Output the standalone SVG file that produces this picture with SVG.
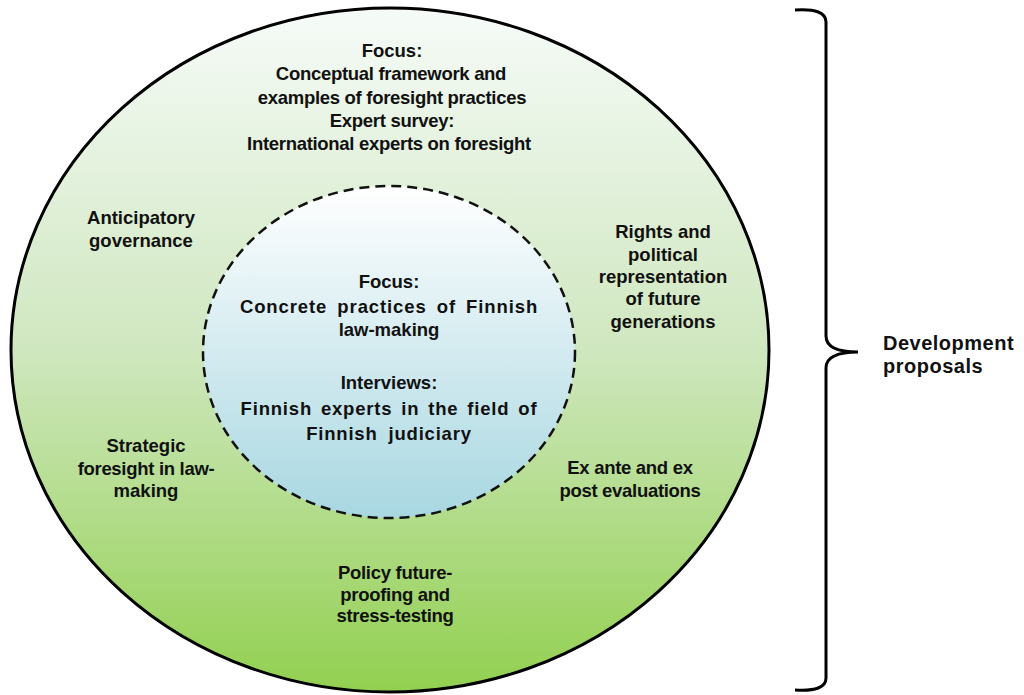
<svg xmlns="http://www.w3.org/2000/svg" width="1024" height="695" viewBox="0 0 1024 695">
<defs>
<linearGradient id="gOuter" x1="0" y1="0" x2="0" y2="1">
<stop offset="0" stop-color="#f6fbf8"/>
<stop offset="0.5" stop-color="#cfe7bf"/>
<stop offset="1" stop-color="#92d050"/>
</linearGradient>
<linearGradient id="gInner" x1="0" y1="0" x2="0" y2="1">
<stop offset="0" stop-color="#ffffff"/>
<stop offset="1" stop-color="#a8d7e1"/>
</linearGradient>
<style>
text{font-family:"Liberation Sans",Arial,sans-serif;font-weight:bold;font-size:18.5px;fill:#111;text-anchor:middle}
.outer{fill:url(#gOuter);stroke:#000;stroke-width:3}
.inner{fill:url(#gInner);stroke:#111;stroke-width:2.5;stroke-dasharray:10 6}
.brace{fill:none;stroke:#000;stroke-width:3}
.tight{letter-spacing:-0.3px}
</style>
</defs>
<rect width="1024" height="695" fill="#fff"/>
<g id="outer-circle">
<ellipse class="outer" cx="390" cy="350" rx="379" ry="342"/>
<text x="392" y="57">Focus:</text>
<text x="391" y="80" class="tight">Conceptual framework and</text>
<text x="392" y="104" class="tight">examples of foresight practices</text>
<text x="392" y="127" class="tight">Expert survey:</text>
<text x="389" y="150" class="tight">International experts on foresight</text>
</g>
<g id="inner-circle">
<ellipse class="inner" cx="389" cy="352" rx="186" ry="166"/>
<text x="389" y="288">Focus:</text>
<text x="389" y="313" letter-spacing="0.9" word-spacing="4">Concrete practices of Finnish</text>
<text x="389" y="336">law-making</text>
<text x="389" y="389">Interviews:</text>
<text x="389" y="415" letter-spacing="0.8" word-spacing="3">Finnish experts in the field of</text>
<text x="389" y="440" letter-spacing="0.8" word-spacing="5">Finnish judiciary</text>
</g>
<g id="anticipatory">
<text x="141" y="224">Anticipatory</text>
<text x="141" y="247">governance</text>
</g>
<g id="strategic">
<text x="146" y="452">Strategic</text>
<text x="146" y="475" class="tight">foresight in law-</text>
<text x="146" y="497">making</text>
</g>
<g id="rights">
<text x="663" y="238">Rights and</text>
<text x="663" y="261">political</text>
<text x="663" y="283">representation</text>
<text x="663" y="305">of future</text>
<text x="663" y="328">generations</text>
</g>
<g id="exante">
<text x="630" y="474" class="tight">Ex ante and ex</text>
<text x="630" y="497" class="tight">post evaluations</text>
</g>
<g id="policy">
<text x="395" y="579" class="tight">Policy future-</text>
<text x="395" y="601" class="tight">proofing and</text>
<text x="395" y="622" class="tight">stress-testing</text>
</g>
<g id="connectors">
<path class="brace" d="M795 10 Q826 8 826 22 L826 336 Q826 352 858 352 Q826 352 826 368 L826 678 Q826 692 795 690"/>
</g>
<g id="development">
<text x="883" y="350" style="text-anchor:start;font-size:20px;letter-spacing:0.5px">Development</text>
<text x="883" y="373" style="text-anchor:start;font-size:20px;letter-spacing:0.5px">proposals</text>
</g>
</svg>
